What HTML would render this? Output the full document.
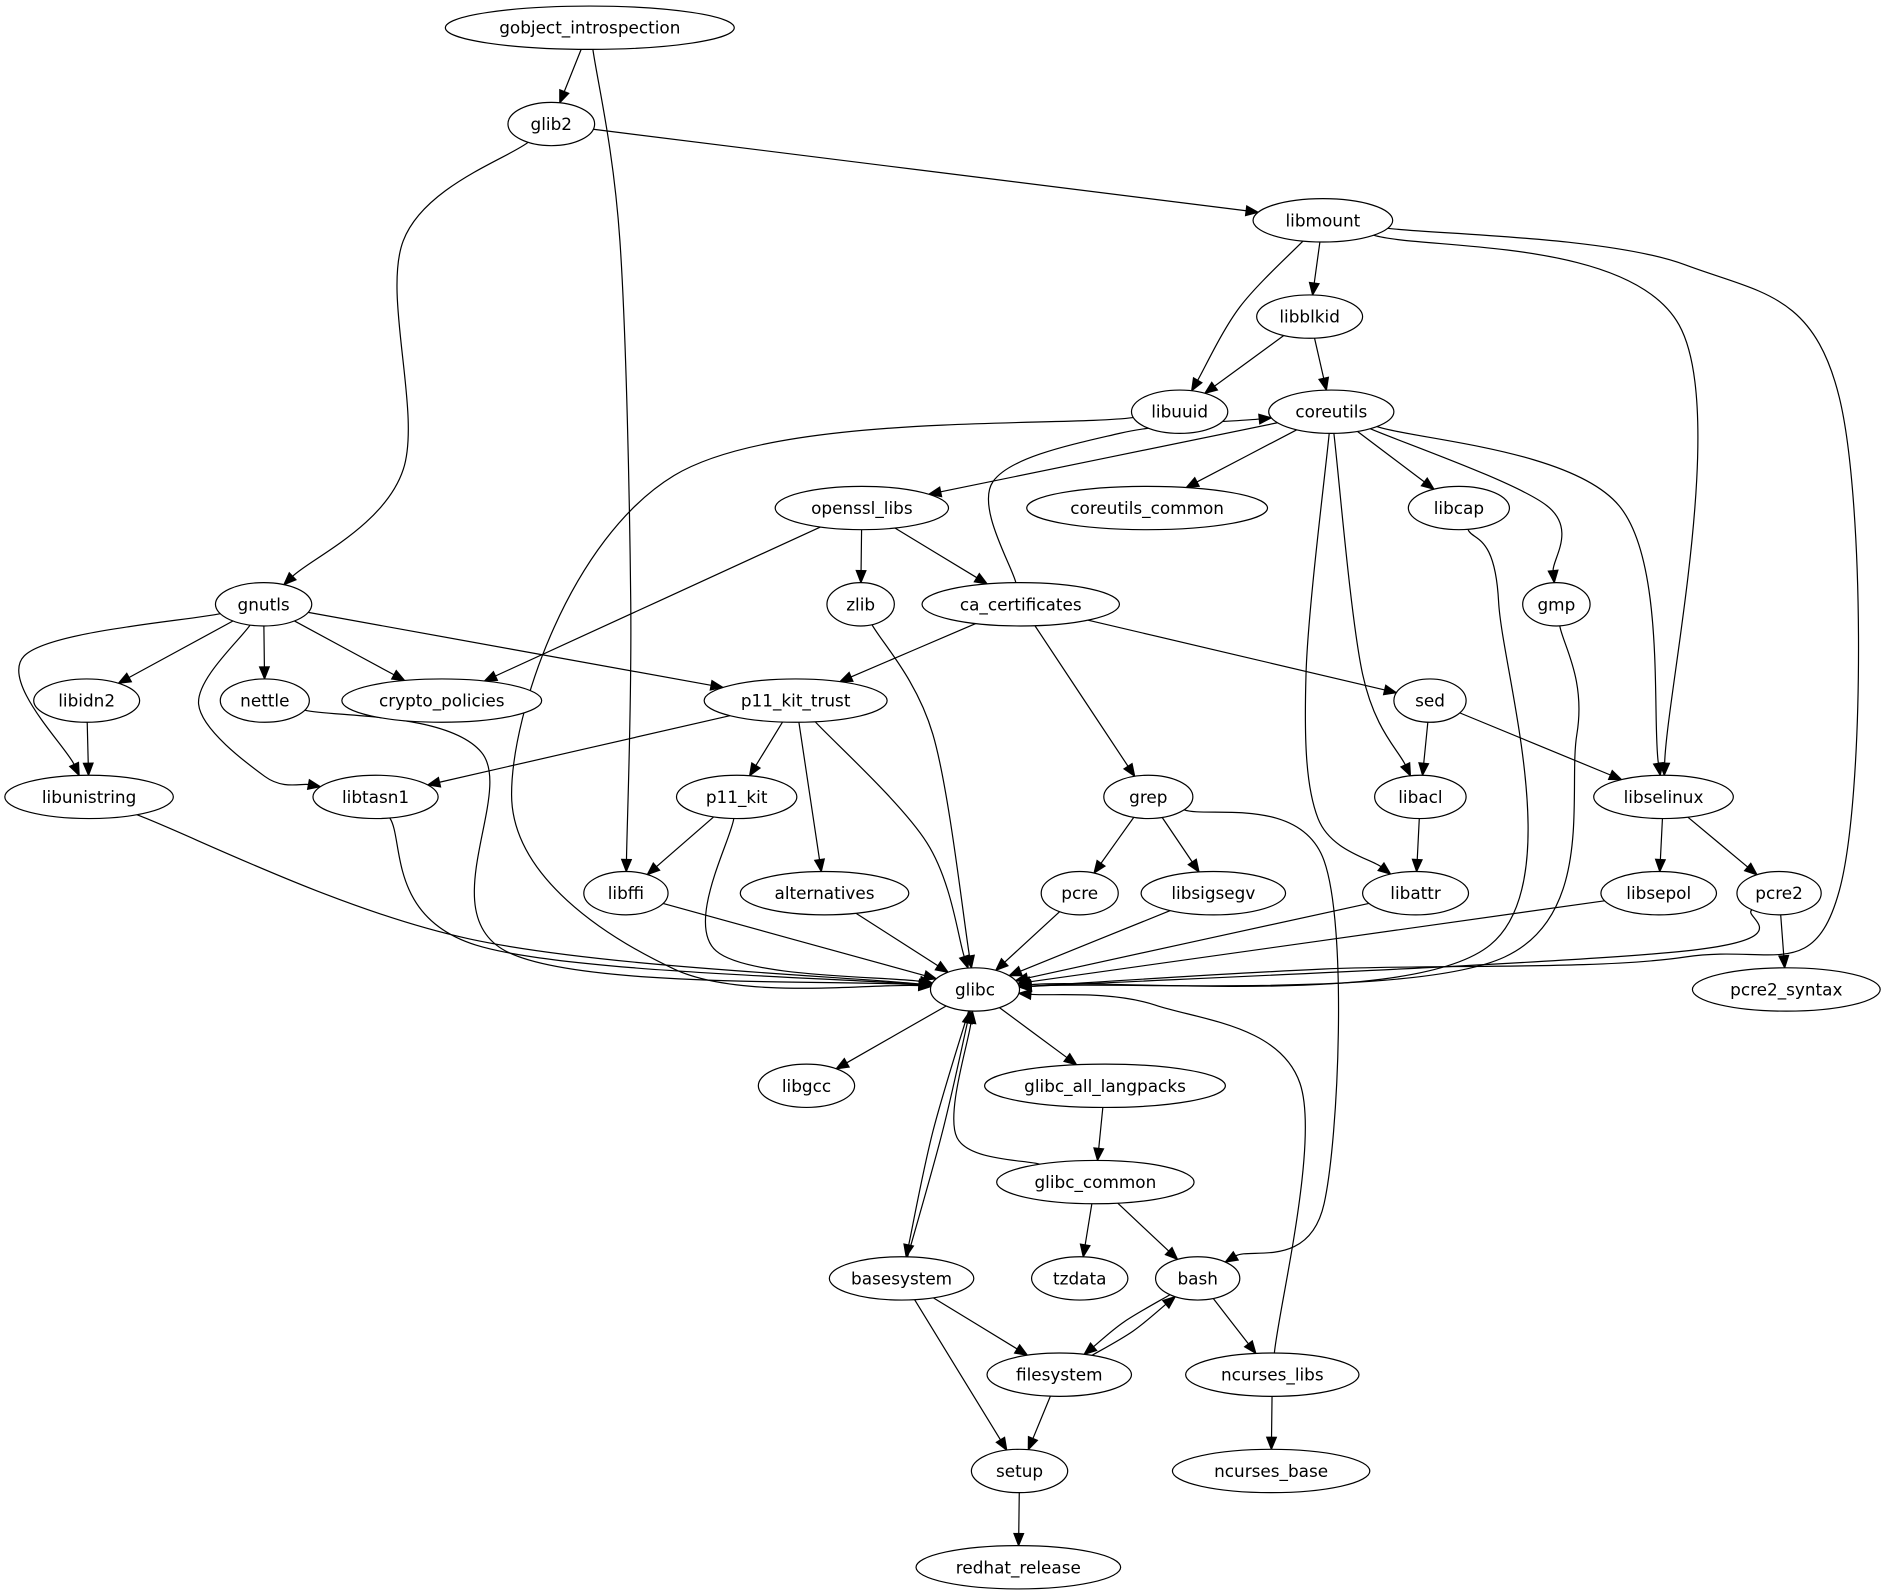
<!DOCTYPE html>
<html><head><meta charset="utf-8"><style>
html,body{margin:0;padding:0;background:#fff;}
svg{display:block;}
text{font-family:"DejaVu Sans","Liberation Sans",sans-serif;font-size:14px;}
</style></head><body>
<svg id="s" width="1885" height="1595" viewBox="0 0 1566 1325" xmlns="http://www.w3.org/2000/svg">
<g id="edges" fill="none" stroke="#000" stroke-width="1"></g>
<g id="arrows" fill="#000" stroke="#000"></g>
<g id="nodes" fill="#fff" stroke="#000"></g>
<g id="labels" fill="#000" text-anchor="middle">
<text x="490" y="28">gobject_introspection</text>
<text x="458" y="108">glib2</text>
<text x="1099" y="188">libmount</text>
<text x="1088" y="268">libblkid</text>
<text x="980" y="347">libuuid</text>
<text x="1106" y="347">coreutils</text>
<text x="716" y="427">openssl_libs</text>
<text x="953" y="427">coreutils_common</text>
<text x="1212" y="427">libcap</text>
<text x="219" y="507">gnutls</text>
<text x="715" y="507">zlib</text>
<text x="848" y="507">ca_certificates</text>
<text x="1293" y="507">gmp</text>
<text x="72" y="587">libidn2</text>
<text x="220" y="587">nettle</text>
<text x="367" y="587">crypto_policies</text>
<text x="661" y="587">p11_kit_trust</text>
<text x="1188" y="587">sed</text>
<text x="74" y="667">libunistring</text>
<text x="312" y="667">libtasn1</text>
<text x="612" y="667">p11_kit</text>
<text x="954" y="667">grep</text>
<text x="1180" y="667">libacl</text>
<text x="1382" y="667">libselinux</text>
<text x="520" y="747">libffi</text>
<text x="685" y="747">alternatives</text>
<text x="897" y="747">pcre</text>
<text x="1008" y="747">libsigsegv</text>
<text x="1176" y="747">libattr</text>
<text x="1378" y="747">libsepol</text>
<text x="1478" y="747">pcre2</text>
<text x="810" y="827">glibc</text>
<text x="1484" y="827">pcre2_syntax</text>
<text x="670" y="907">libgcc</text>
<text x="918" y="907">glibc_all_langpacks</text>
<text x="910" y="987">glibc_common</text>
<text x="749" y="1067">basesystem</text>
<text x="897" y="1067">tzdata</text>
<text x="995" y="1067">bash</text>
<text x="880" y="1147">filesystem</text>
<text x="1057" y="1147">ncurses_libs</text>
<text x="847" y="1227">setup</text>
<text x="1056" y="1227">ncurses_base</text>
<text x="846" y="1307">redhat_release</text>
</g>
</svg>
<script>
var N={
gobject_introspection:[490,23,120],glib2:[458,103,36],libmount:[1099,183,58],libblkid:[1088,263,44],
libuuid:[980,342,40],coreutils:[1106,342,52],openssl_libs:[716,422,72],coreutils_common:[953,422,100],
libcap:[1212,422,42],gnutls:[219,502,40],zlib:[715,502,28],ca_certificates:[848,502,82],gmp:[1293,502,28],
libidn2:[72,582,44],nettle:[220,582,37],crypto_policies:[367,582,83],p11_kit_trust:[661,582,76],sed:[1188,582,30],
libunistring:[74,662,70],libtasn1:[312,662,52],p11_kit:[612,662,50],grep:[954,662,37],libacl:[1180,662,38],
libselinux:[1382,662,58],libffi:[520,742,35],alternatives:[685,742,70],pcre:[897,742,32],libsigsegv:[1008,742,60],
libattr:[1176,742,44],libsepol:[1378,742,48],pcre2:[1478,742,35],glibc:[810,822,37],pcre2_syntax:[1484,822,78],
libgcc:[670,902,40],glibc_all_langpacks:[918,902,100],glibc_common:[910,982,82],basesystem:[749,1062,60],
tzdata:[897,1062,40],bash:[995,1062,35],filesystem:[880,1142,60],ncurses_libs:[1057,1142,72],setup:[847,1222,40],
ncurses_base:[1056,1222,82],redhat_release:[846,1302,85]};
var RY=18;
var E=[
["gobject_introspection","glib2"],
["gobject_introspection","libffi",[[515,200],[524,500]]],
["glib2","libmount"],
["glib2","gnutls",[[335,200],[335,390]]],
["libmount","libblkid"],
["libmount","libuuid",[[1030,255]]],
["libmount","libselinux",[[1395,270]]],
["libmount","glibc",[[1400,220],[1528,330],[1528,740],[1400,795],[1100,805]]],
["libblkid","libuuid"],["libblkid","coreutils"],
["libuuid","glibc",[[560,395],[425,660],[560,805]]],
["coreutils","openssl_libs"],["coreutils","coreutils_common"],["coreutils","libcap"],
["coreutils","gmp",[[1285,420]]],
["coreutils","libselinux",[[1345,420]]],
["coreutils","libacl",[[1132,560]]],
["coreutils","libattr",[[1085,560],[1095,680]]],
["openssl_libs","zlib"],["openssl_libs","ca_certificates"],["openssl_libs","crypto_policies"],
["ca_certificates","coreutils",[[825,400],[930,360]]],
["ca_certificates","p11_kit_trust"],["ca_certificates","grep"],["ca_certificates","sed"],
["gnutls","libidn2"],["gnutls","nettle"],["gnutls","crypto_policies"],["gnutls","p11_kit_trust"],
["gnutls","libunistring",[[20,545]]],
["gnutls","libtasn1",[[165,585],[220,645]]],
["zlib","glibc",[[775,610]]],
["gmp","glibc",[[1310,610],[1250,795]]],
["libcap","glibc",[[1245,500],[1238,785]]],
["libidn2","libunistring"],
["nettle","glibc",[[400,625],[420,790]]],
["p11_kit_trust","libtasn1"],["p11_kit_trust","p11_kit"],["p11_kit_trust","alternatives"],
["p11_kit_trust","glibc",[[770,700]]],
["sed","libacl"],["sed","libselinux"],
["libunistring","glibc",[[390,780]]],
["libtasn1","glibc",[[395,785]]],
["p11_kit","libffi"],
["p11_kit","glibc",[[595,790]]],
["grep","pcre"],["grep","libsigsegv"],
["grep","bash",[[1100,715],[1100,1000]]],
["libacl","libattr"],["libselinux","libsepol"],["libselinux","pcre2"],
["libffi","glibc"],["alternatives","glibc"],["pcre","glibc"],["libsigsegv","glibc"],["libattr","glibc"],["libsepol","glibc"],
["pcre2","glibc",[[1400,790]]],
["pcre2","pcre2_syntax"],
["glibc","libgcc"],["glibc","glibc_all_langpacks"],
["glibc","basesystem",[[775,940]]],
["basesystem","glibc",[[783,940]]],
["glibc_all_langpacks","glibc_common"],
["glibc_common","glibc",[[795,945]]],
["glibc_common","tzdata"],["glibc_common","bash"],
["basesystem","filesystem"],["basesystem","setup"],
["bash","filesystem",[[934,1098]]],
["filesystem","bash",[[941,1106]]],
["bash","ncurses_libs"],
["ncurses_libs","glibc",[[1080,900],[960,835]]],
["filesystem","setup"],["setup","redhat_release"],["ncurses_libs","ncurses_base"]
];
function bnd(n,px,py){var c=N[n],dx=px-c[0],dy=py-c[1],a=c[2],b=RY;var t=1/Math.sqrt(dx*dx/(a*a)+dy*dy/(b*b));return [c[0]+dx*t,c[1]+dy*t];}
var eg=document.getElementById('edges'),ag=document.getElementById('arrows'),ng=document.getElementById('nodes');
var NS="http://www.w3.org/2000/svg";
E.forEach(function(e){
 var f=N[e[0]],t=N[e[1]],c=e[2]||[];
 var first=c.length?c[0]:[t[0],t[1]],last=c.length?c[c.length-1]:[f[0],f[1]];
 var s=bnd(e[0],first[0],first[1]),en=bnd(e[1],last[0],last[1]);
 var dx=en[0]-last[0],dy=en[1]-last[1],L=Math.sqrt(dx*dx+dy*dy);var ux=dx/L,uy=dy/L;
 var L2=10;var tip=en,base=[en[0]-ux*L2,en[1]-uy*L2];
 var pts=[s].concat(c).concat([base]);
 var d="M"+pts[0][0]+","+pts[0][1];
 for(var i=0;i<pts.length-1;i++){
  var p0=pts[i-1]||pts[i],p1=pts[i],p2=pts[i+1],p3=pts[i+2]||pts[i+1];
  var c1=[p1[0]+(p2[0]-p0[0])/6,p1[1]+(p2[1]-p0[1])/6],c2=[p2[0]-(p3[0]-p1[0])/6,p2[1]-(p3[1]-p1[1])/6];
  d+=" C"+c1[0]+","+c1[1]+" "+c2[0]+","+c2[1]+" "+p2[0]+","+p2[1];
 }
 var p=document.createElementNS(NS,'path');p.setAttribute('d',d);eg.appendChild(p);
 var w=4;var a=document.createElementNS(NS,'polygon');
 a.setAttribute('points',tip[0]+","+tip[1]+" "+(base[0]-uy*w)+","+(base[1]+ux*w)+" "+(base[0]+uy*w)+","+(base[1]-ux*w));
 ag.appendChild(a);
});
for(var k in N){var el=document.createElementNS(NS,'ellipse');el.setAttribute('cx',N[k][0]);el.setAttribute('cy',N[k][1]);el.setAttribute('rx',N[k][2]);el.setAttribute('ry',RY);ng.appendChild(el);}
</script>
</body></html>
